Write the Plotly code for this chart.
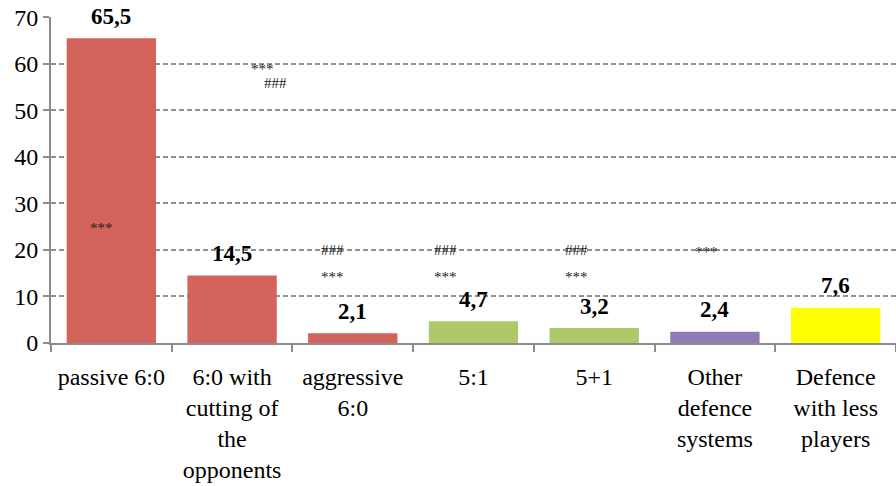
import plotly.graph_objects as go

categories = ["passive 6:0", "6:0 with<br>cutting of<br>the<br>opponents", "aggressive<br>6:0",
              "5:1", "5+1", "Other<br>defence<br>systems", "Defence<br>with less<br>players"]
values = [65.5, 14.5, 2.1, 4.7, 3.2, 2.4, 7.6]
value_labels = ["65,5", "14,5", "2,1", "4,7", "3,2", "2,4", "7,6"]
bar_colors = ["#D3635B", "#D3635B", "#D3635B", "#ADC969", "#ADC969", "#9179B3", "#FFFF00"]

# significance markers: text, category index position, value position
sig_text = ["***", "***", "###", "###", "***", "###", "***", "###", "***", "***"]
sig_x = [-0.08, 1.25, 1.36, 1.83, 1.83, 2.77, 2.77, 3.85, 3.85, 4.93]
sig_y = [24.7, 58.9, 55.8, 20.0, 14.2, 20.0, 14.2, 20.0, 14.2, 19.6]

SERIF = "Liberation Serif, Times New Roman, Times, serif"

fig = go.Figure()
fig.add_trace(go.Bar(x=categories, y=values, marker=dict(color=bar_colors, line=dict(width=0)),
                     width=0.74, hoverinfo="skip"))

annotations = []
for c, v, t in zip(categories, values, value_labels):
    annotations.append(dict(x=c, y=v, text="<b>" + t + "</b>", showarrow=False, yshift=22,
                            yanchor="middle", xanchor="center",
                            font=dict(family=SERIF, size=23, color="black")))
for t, x, y in zip(sig_text, sig_x, sig_y):
    annotations.append(dict(x=x, y=y, text=t, showarrow=False, yanchor="middle", xanchor="center",
                            font=dict(family=SERIF, size=15, color="#222222")))

fig.update_layout(
    width=896, height=486,
    margin=dict(l=51, r=0, t=17, b=143),
    paper_bgcolor="white", plot_bgcolor="white",
    showlegend=False,
    annotations=annotations,
    font=dict(family=SERIF, size=23, color="black"),
    xaxis=dict(type="category", tickson="boundaries", ticks="outside", ticklen=7,
               tickcolor="#8c8c8c", tickwidth=2, showline=True, linecolor="#8c8c8c", linewidth=2,
               showgrid=False, automargin=False, ticklabelstandoff=11,
               tickfont=dict(family=SERIF, size=24, color="black"),
               range=[-0.5, 6.5]),
    yaxis=dict(range=[0, 70.05], tickvals=[0, 10, 20, 30, 40, 50, 60, 70], ticks="outside", ticklen=6,
               tickcolor="#8c8c8c", tickwidth=2,
               showline=True, linecolor="#8c8c8c", linewidth=2, automargin=False,
               showgrid=True, gridcolor="#8f8f8f", griddash="5px,3px", gridwidth=1.5,
               zeroline=False,
               tickfont=dict(family=SERIF, size=24, color="black")),
)

fig.write_html("out.html", config={"displayModeBar": False},
               post_script="document.body.style.margin='0';")
